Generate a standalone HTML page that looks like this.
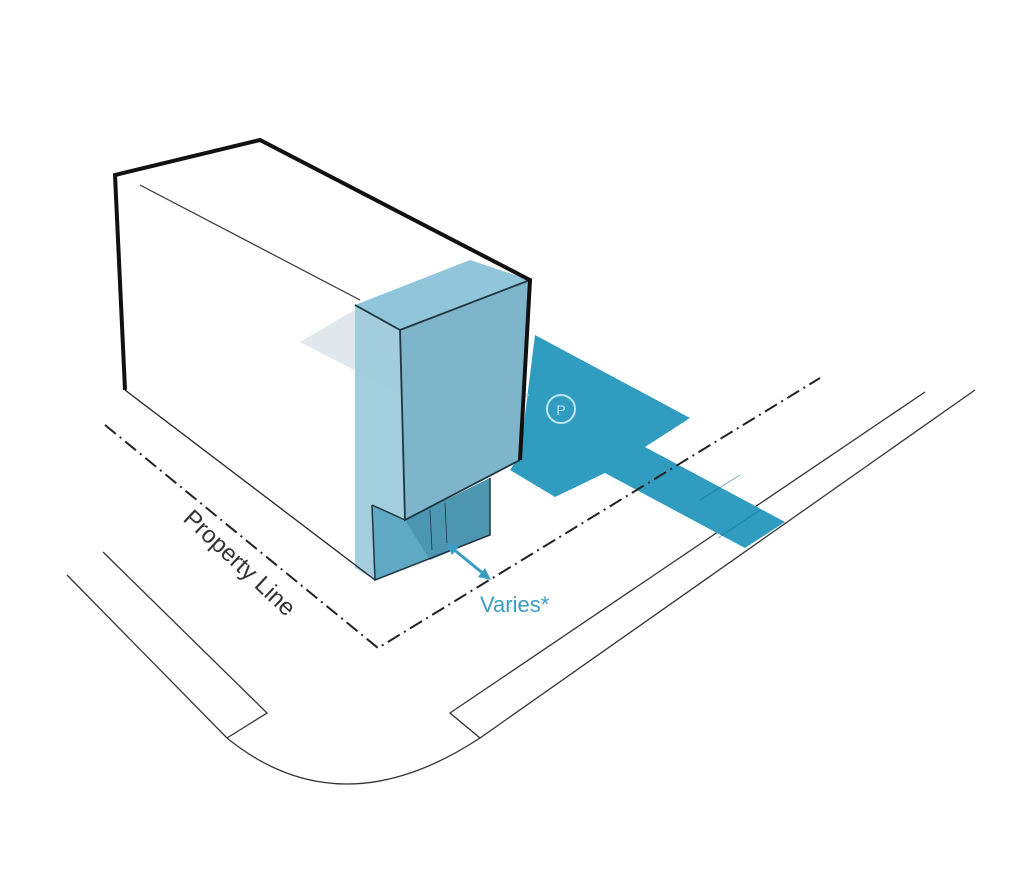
<!DOCTYPE html>
<html><head><style>html,body{margin:0;padding:0;background:#fff}svg{display:block}</style></head>
<body>
<svg width="1023" height="891" viewBox="0 0 1023 891" xmlns="http://www.w3.org/2000/svg">
<g fill="none" stroke="#333" stroke-width="1.3">
<polyline points="103,552 267,713 227,738"/>
<polyline points="67,575 227,738"/>
<path d="M227,738 Q340,830 480,738"/>
<polyline points="925,392 450,713 480,738 975,390"/>
</g>
<polygon points="535,335 690,418 645,447 785,522 745,548 605,473 555,497 510,470 520,455" fill="#2f9cc0"/>
<g stroke="#1d6f8c" stroke-width="1" opacity="0.6"><line x1="700" y1="500" x2="740" y2="475"/><line x1="718" y1="538" x2="760" y2="510"/></g>
<circle cx="561" cy="409" r="14" fill="none" stroke="#bfe6f3" stroke-width="2"/>
<text x="561" y="415" font-family="Liberation Sans, sans-serif" font-size="14" fill="#bfe6f3" text-anchor="middle">P</text>
<polyline points="105,425 378,648 820,378" fill="none" stroke="#222" stroke-width="2" stroke-dasharray="14,5,2,5"/>
<polygon points="115,175 260,140 530,280 520,460 405,520 375,580 125,390" fill="#fff"/>
<line x1="140" y1="185" x2="360" y2="300" stroke="#333" stroke-width="1.2"/>
<polygon points="300,342 358,308 530,395 470,430" fill="#c4d2da" opacity="0.5"/>
<polygon points="355,305 470,260 530,280 400,330" fill="#7dbbd3" opacity="0.85"/>
<polygon points="355,305 400,330 405,520 372,505 375,580 355,568" fill="#9fcadb" opacity="0.95"/>
<polygon points="400,330 530,280 520,460 405,520" fill="#7fb5cb"/>
<polygon points="372,505 405,520 490,478 490,535 375,580" fill="#5fa9c4"/>
<polygon points="405,520 490,478 490,535 430,560" fill="#4c96b2"/>
<polyline points="400,330 530,280" fill="none" stroke="#1f3640" stroke-width="1.8"/>
<polyline points="355,305 400,330 405,520 520,460" fill="none" stroke="#1f3640" stroke-width="1.8"/>
<polyline points="372,505 405,520" fill="none" stroke="#1f3640" stroke-width="1.5"/>
<polyline points="372,505 375,580 490,535 490,478" fill="none" stroke="#1f3640" stroke-width="1.5"/>
<line x1="430" y1="510" x2="432" y2="550" stroke="#1f3640" stroke-width="0.8"/>
<line x1="445" y1="503" x2="447" y2="545" stroke="#1f3640" stroke-width="0.8"/>
<polyline points="125,390 115,175 260,140 530,280 520,460" fill="none" stroke="#111" stroke-width="4"/>
<line x1="125" y1="390" x2="375" y2="580" stroke="#222" stroke-width="1.3"/>
<line x1="452" y1="548" x2="485" y2="575" stroke="#3b9cc4" stroke-width="3"/>
<polygon points="446,543 459,546 452,555" fill="#3b9cc4"/>
<polygon points="491,580 478,577 485,568" fill="#3b9cc4"/>
<text x="480" y="612" font-family="Liberation Sans, sans-serif" font-size="22" fill="#3b9cc4">Varies*</text>
<text transform="translate(182,520) rotate(43)" font-family="Liberation Sans, sans-serif" font-size="24" fill="#333">Property Line</text>
</svg>
</body></html>
